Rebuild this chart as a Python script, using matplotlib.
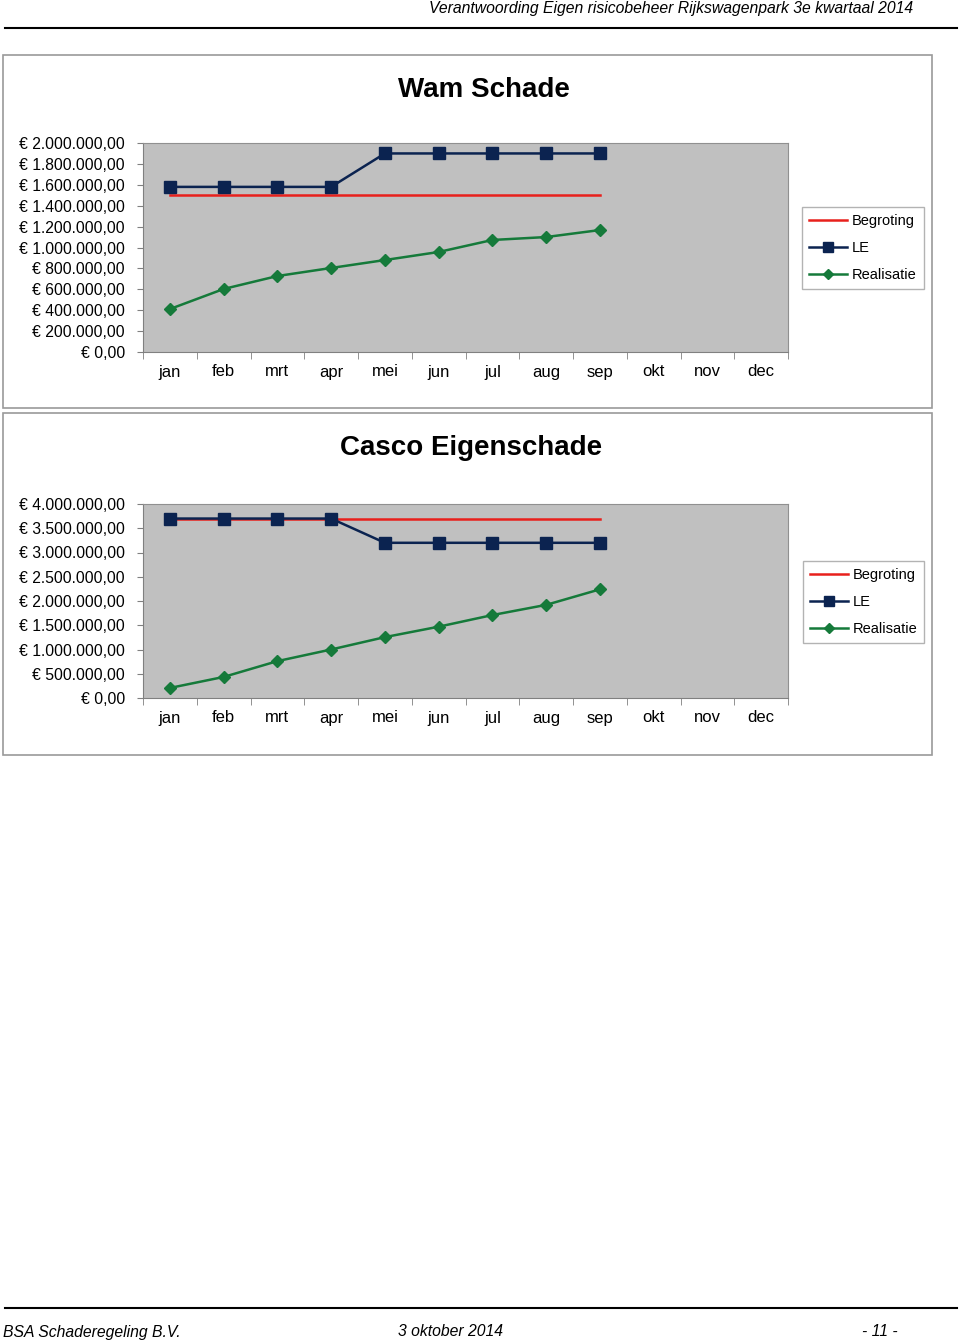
import matplotlib
matplotlib.use("Agg")
import matplotlib.pyplot as plt
from matplotlib.patches import Rectangle
from matplotlib.lines import Line2D
from matplotlib.ticker import FuncFormatter

plt.rcParams["font.family"] = ["Liberation Sans", "DejaVu Sans"]

MONTHS = ["jan", "feb", "mrt", "apr", "mei", "jun", "jul", "aug", "sep",
          "okt", "nov", "dec"]

# Wam Schade (jan..sep)
wam_begroting = [1500000] * 9
wam_le = [1580000, 1580000, 1580000, 1580000, 1900000, 1900000, 1900000,
          1900000, 1900000]
wam_realisatie = [411000, 603000, 727000, 804000, 880000, 957000, 1072000,
                  1100000, 1167000]

# Casco Eigenschade
casco_begroting = [3700000] * 9
casco_le = [3700000, 3700000, 3700000, 3700000, 3200000, 3200000, 3200000,
            3200000, 3200000]
casco_realisatie = [207000, 434000, 760000, 1000000, 1255000, 1470000,
                    1710000, 1920000, 2240000]

W, H = 960, 1343
RED = "#E8201C"
NAVY = "#0B2350"
GREEN = "#157A3A"
PLOT_BG = "#C0C0C0"


def px_box(x0, y0, x1, y1):
    return [x0 / W, 1 - y1 / H, (x1 - x0) / W, (y1 - y0) / H]


def euro(v, pos=None):
    s = "{:,.2f}".format(v).replace(",", "X").replace(".", ",").replace("X", ".")
    return "\u20ac " + s


def draw_chart(fig, frame, area, leg, title, title_xy, ymax, ystep,
               begroting, le, realisatie):
    fx0, fy0, fx1, fy1 = frame
    fig.patches.append(Rectangle((fx0 / W, 1 - fy1 / H), (fx1 - fx0) / W,
                                 (fy1 - fy0) / H, transform=fig.transFigure,
                                 facecolor="none", edgecolor="#9A9A9A",
                                 lw=1.2, zorder=-1))
    fig.text(title_xy[0] / W, 1 - title_xy[1] / H, title, ha="center",
             va="center", fontsize=20, fontweight="bold")

    ax = fig.add_axes(px_box(*area))
    ax.set_facecolor(PLOT_BG)
    x = list(range(len(realisatie)))
    ax.plot(x, begroting, color=RED, lw=1.8, zorder=3)
    ax.plot(x, le, color=NAVY, lw=1.8, marker="s", ms=8, zorder=4)
    ax.plot(x, realisatie, color=GREEN, lw=1.8, marker="D", ms=6, zorder=4)

    ax.set_xlim(-0.5, 11.5)
    ax.set_ylim(0, ymax)
    ax.set_xticks(range(12))
    ax.set_xticklabels(MONTHS)
    ax.set_xticks([i - 0.5 for i in range(13)], minor=True)
    ax.tick_params(axis="x", which="major", length=0, pad=9, labelsize=12)
    ax.tick_params(axis="x", which="minor", length=5, color="#808080")
    yt = [i * ystep for i in range(int(round(ymax / ystep)) + 1)]
    ax.set_yticks(yt)
    ax.yaxis.set_major_formatter(FuncFormatter(euro))
    ax.tick_params(axis="y", length=4, color="#808080", pad=9, labelsize=11.3)
    for sp in ("top", "right"):
        ax.spines[sp].set_color("#909090")
    for sp in ("left", "bottom"):
        ax.spines[sp].set_color("#808080")

    handles = [
        Line2D([], [], color=RED, lw=1.8),
        Line2D([], [], color=NAVY, lw=1.8, marker="s", ms=7),
        Line2D([], [], color=GREEN, lw=1.8, marker="D", ms=5),
    ]
    lax = fig.add_axes(px_box(*leg))
    lax.axis("off")
    lax.legend(handles, ["Begroting", "LE", "Realisatie"], loc="center",
               frameon=True, fancybox=False, edgecolor="#A0A0A0",
               fontsize=10.5, handlelength=2.6, borderpad=0.5,
               labelspacing=0.9, handletextpad=0.3, borderaxespad=0)
    return ax


fig = plt.figure(figsize=(9.6, 13.43), dpi=100)

# page header and footer
fig.text(913 / W, 1 - 9 / H,
         "Verantwoording Eigen risicobeheer Rijkswagenpark 3e kwartaal 2014",
         ha="right", va="center", fontsize=11.3, style="italic")
fig.add_artist(Line2D([5 / W, 957 / W], [1 - 28 / H] * 2, color="black", lw=1.5))
fig.add_artist(Line2D([5 / W, 957 / W], [1 - 1308 / H] * 2, color="black", lw=1.5))
fig.text(3 / W, 1 - 1332 / H, "BSA Schaderegeling B.V.", ha="left", va="center",
         fontsize=11.3, style="italic")
fig.text(450 / W, 1 - 1332 / H, "3 oktober 2014", ha="center", va="center",
         fontsize=11.3, style="italic")
fig.text(880 / W, 1 - 1332 / H, "- 11 -", ha="center", va="center",
         fontsize=11.3, style="italic")

draw_chart(fig, (3, 55, 932, 408), (143, 143, 788, 352), (805, 207, 921, 289),
           "Wam Schade", (484, 90), 2000000, 200000,
           wam_begroting, wam_le, wam_realisatie)
draw_chart(fig, (3, 413, 932, 755), (143, 504, 788, 698), (806, 562, 921, 642),
           "Casco Eigenschade", (471, 448), 4000000, 500000,
           casco_begroting, casco_le, casco_realisatie)

fig.savefig("out.png", dpi=100)
